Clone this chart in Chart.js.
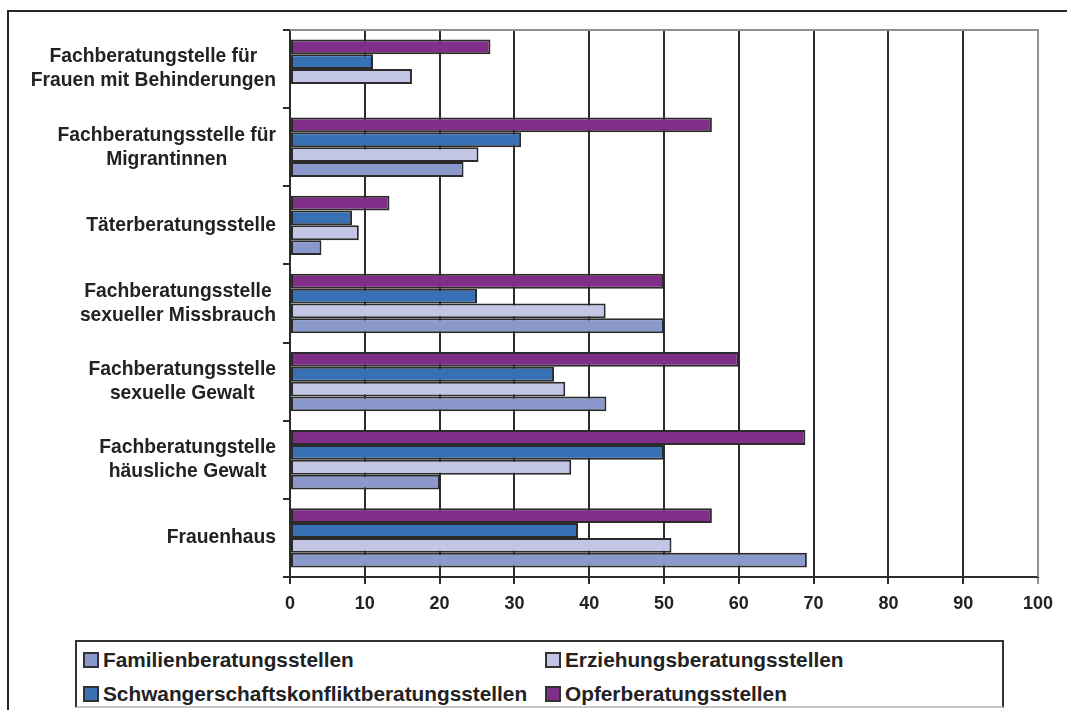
<!DOCTYPE html>
<html>
<head>
<meta charset="utf-8">
<script src="https://cdn.jsdelivr.net/npm/chart.js@4/dist/chart.umd.min.js"></script>
<style>
  body { margin: 0; background: #fff; width: 1067px; height: 710px; overflow: hidden; position: relative;
         font-family: "Liberation Sans", Arial, sans-serif; }
  #frame { position: absolute; left: 7px; top: 10px; width: 1200px; height: 900px;
           border-top: 2px solid #262626; border-left: 2px solid #262626; }
  #chart { position: absolute; left: 0; top: 0; }
  #legend { position: absolute; left: 75px; top: 640px; width: 925px; height: 64px;
            border: 2px solid #333; border-bottom-color: #c8c8c8; background: #fff; }
  .item { position: absolute; display: flex; align-items: center; font-weight: bold;
          font-size: 20.8px; color: #222; white-space: nowrap; height: 24px; }
  .item i { display: inline-block; width: 12px; height: 12px; border: 2px solid #333; margin-right: 4px; }
</style>
</head>
<body>
<div id="frame"></div>
<canvas id="chart" width="1067" height="630"></canvas>
<div id="legend"></div>
<script>
const categories = [
  ["Fachberatungstelle für", "Frauen mit Behinderungen"],
  ["Fachberatungsstelle für", "Migrantinnen"],
  ["Täterberatungsstelle"],
  ["Fachberatungsstelle", "sexueller Missbrauch"],
  ["Fachberatungsstelle", "sexuelle Gewalt"],
  ["Fachberatungstelle", "häusliche Gewalt"],
  ["Frauenhaus"],
];
const familien = [null, 23.2, 4.2, 50, 42.3, 20, 69.1];
const erziehung = [16.3, 25.2, 9.2, 42.2, 36.8, 37.6, 51.0];
const schwanger = [11.1, 30.9, 8.3, 25, 35.3, 50, 38.5];
const opfer = [26.8, 56.4, 13.3, 50, 60, 68.9, 56.4];
const xTicks = [0, 10, 20, 30, 40, 50, 60, 70, 80, 90, 100];

// legend order as in the picture (row by row)
const series = [
  { label: "Familienberatungsstellen", data: familien, color: "#8b98cc" },
  { label: "Erziehungsberatungsstellen", data: erziehung, color: "#c2c6e4" },
  { label: "Schwangerschaftskonfliktberatungsstellen", data: schwanger, color: "#3870b5" },
  { label: "Opferberatungsstellen", data: opfer, color: "#7f2f87" },
];

const FONT = "'Liberation Sans', Arial, sans-serif";
const DARK = "#2b2b2b";
const GRAY = "#8a9296";

const frameLines = {
  id: "frameLines",
  beforeDatasetsDraw(chart) {
    const { ctx, chartArea: a } = chart;
    ctx.save();
    ctx.strokeStyle = GRAY;
    ctx.lineWidth = 2;
    ctx.beginPath();
    ctx.moveTo(a.left, a.top);
    ctx.lineTo(a.right, a.top);
    ctx.lineTo(a.right, a.bottom);
    ctx.stroke();
    ctx.restore();
  },
};

// category labels: lines centred on each other, widest line ending left of the axis
const categoryLabels = {
  id: "categoryLabels",
  afterDraw(chart) {
    const { ctx } = chart;
    const yScale = chart.scales.y;
    ctx.save();
    ctx.font = `bold 19.3px ${FONT}`;
    ctx.fillStyle = "#222";
    ctx.textAlign = "center";
    ctx.textBaseline = "middle";
    categories.forEach((lines, i) => {
      const y = yScale.getPixelForValue(i);
      const maxW = Math.max(...lines.map((l) => ctx.measureText(l).width));
      const cx = 276 - maxW / 2;
      lines.forEach((line, j) => {
        ctx.fillText(line, cx, y + (j - (lines.length - 1) / 2) * 24);
      });
    });
    ctx.restore();
  },
};

new Chart(document.getElementById("chart"), {
  type: "bar",
  data: {
    labels: categories,
    // top bar of each group first
    datasets: [...series].reverse().map((s) => ({
      label: s.label,
      data: s.data,
      backgroundColor: s.color,
      borderColor: DARK,
      borderWidth: 2,
      borderSkipped: false,
      categoryPercentage: 0.76,
      barPercentage: 1.0,
    })),
  },
  options: {
    indexAxis: "y",
    responsive: false,
    devicePixelRatio: 1,
    animation: false,
    layout: { padding: { top: 30, right: 29, left: 0, bottom: 0 } },
    plugins: { legend: { display: false }, tooltip: { enabled: false } },
    scales: {
      x: {
        min: 0,
        max: 100,
        afterFit: (s) => { s.height = 53; },
        afterBuildTicks: (s) => { s.ticks = xTicks.map((v) => ({ value: v })); },
        ticks: { font: { family: FONT, size: 18, weight: "bold" }, color: "#222", padding: 9 },
        grid: {
          color: (c) => (c.tick && c.tick.value === 100 ? GRAY : DARK),
          lineWidth: 2,
          tickLength: 7,
        },
        border: { color: DARK, width: 2 },
      },
      y: {
        afterFit: (s) => { s.width = 290; },
        ticks: { display: false },
        grid: { offset: true, drawOnChartArea: false, tickLength: 7, color: DARK, lineWidth: 2 },
        border: { color: DARK, width: 2 },
      },
    },
  },
  plugins: [frameLines, categoryLabels],
});

const legendEl = document.getElementById("legend");
const cols = [6, 468];
const rows = [6, 40];
legendEl.innerHTML = series
  .map((s, i) => `<div class="item" style="left:${cols[i % 2]}px;top:${rows[Math.floor(i / 2)]}px"><i style="background:${s.color}"></i>${s.label}</div>`)
  .join("");
</script>
</body>
</html>
